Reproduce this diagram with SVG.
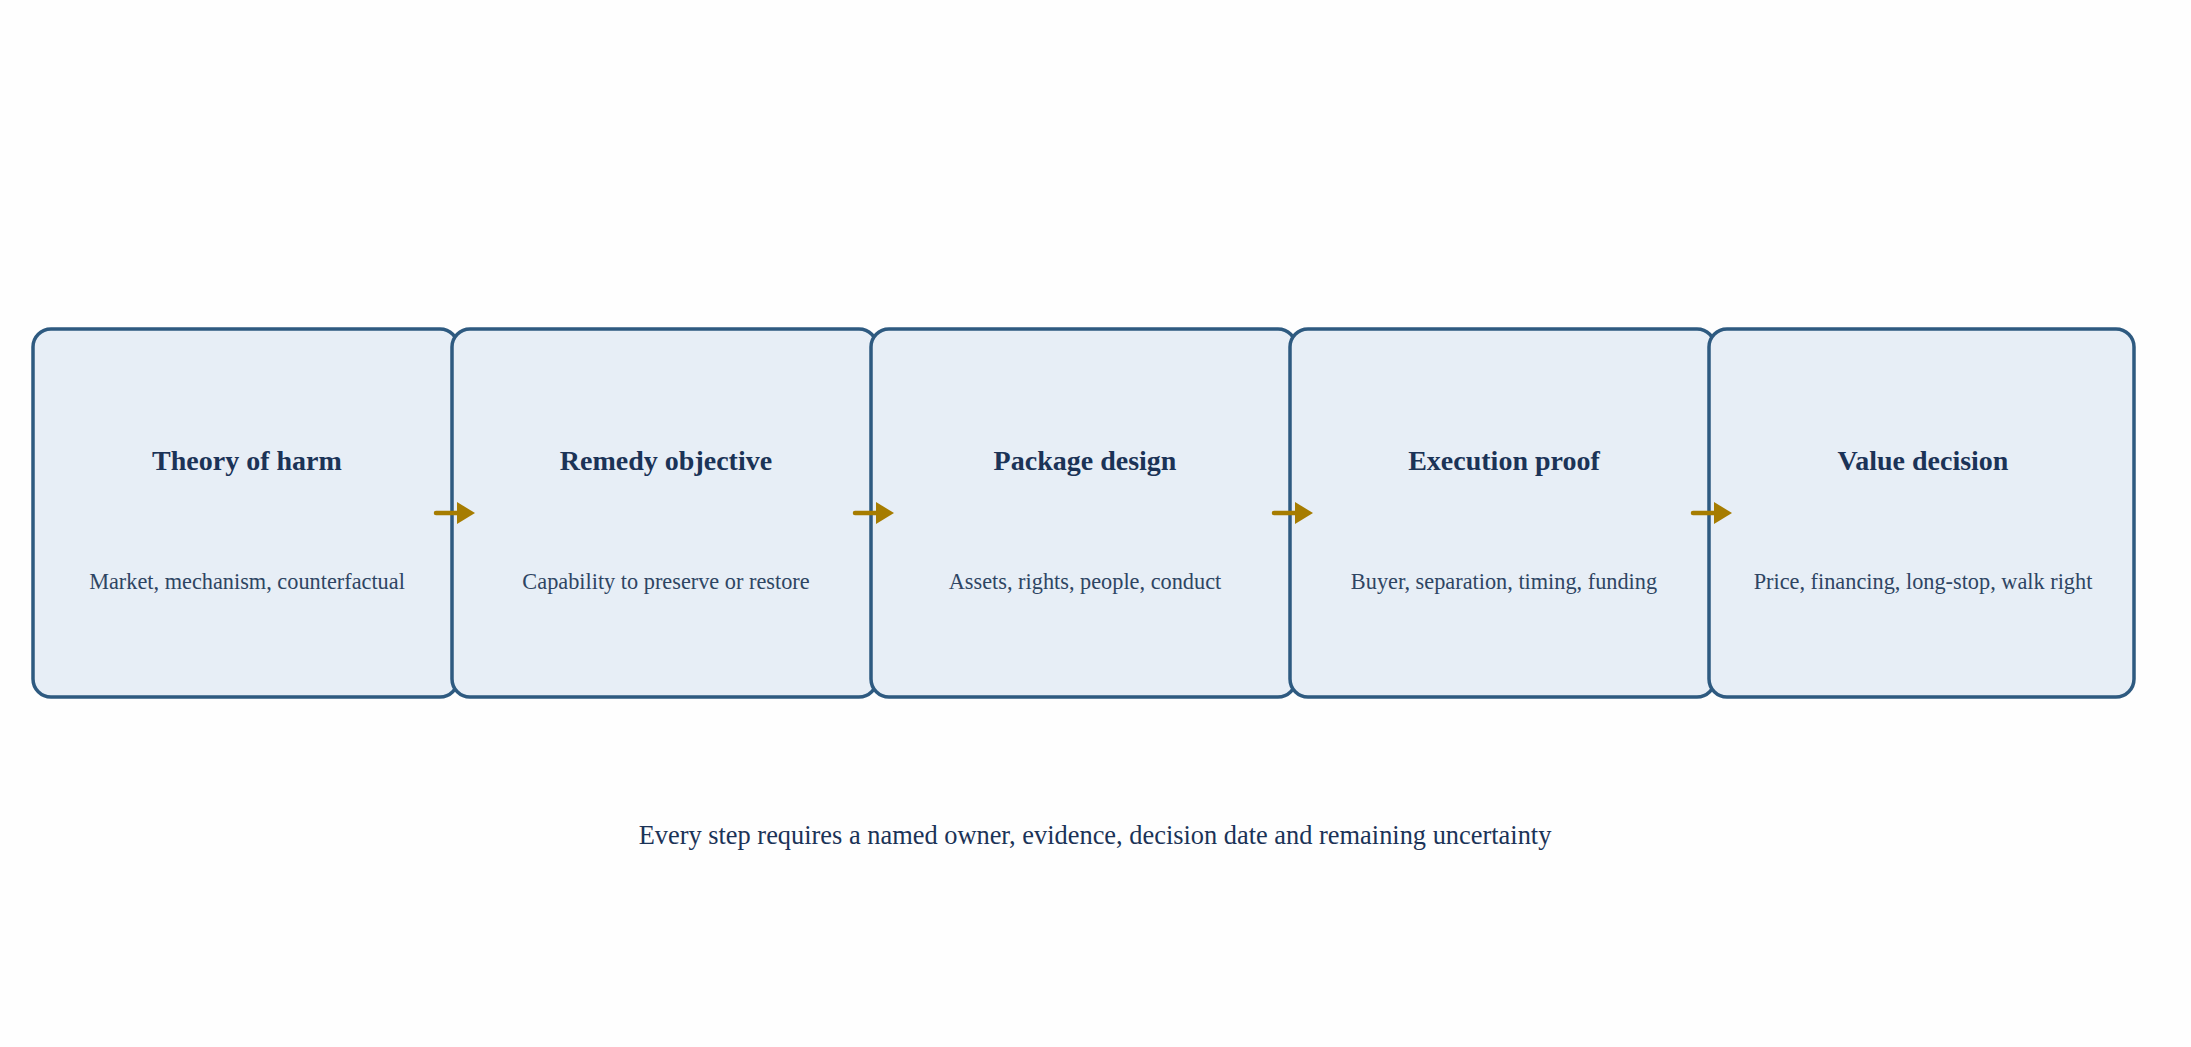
<svg xmlns="http://www.w3.org/2000/svg" width="2191" height="1047" viewBox="0 0 2191 1047">
<defs>
<style>
.box{fill:#e7eef6;stroke:#2e5a80;stroke-width:3.5}
.t{font-family:"Liberation Serif",serif;font-weight:bold;font-size:28px;fill:#1b3357;text-anchor:middle}
.s{font-family:"Liberation Serif",serif;font-size:22.3px;fill:#2e4563;text-anchor:middle}
.f{font-family:"Liberation Serif",serif;font-size:26.4px;fill:#1b3357;text-anchor:middle}
.c{stroke:#a67c00;stroke-width:4.5;fill:none;stroke-linecap:round}
</style>
</defs>
<rect width="2191" height="1047" fill="#fefefe"/>
<g id="n1"><rect class="box" x="33" y="329" width="425" height="368" rx="18"/><text class="t" x="247" y="470">Theory of harm</text><text class="s" x="247" y="589">Market, mechanism, counterfactual</text></g>
<g id="n2"><rect class="box" x="452" y="329" width="425" height="368" rx="18"/><text class="t" x="666" y="470">Remedy objective</text><text class="s" x="666" y="589">Capability to preserve or restore</text></g>
<g id="n3"><rect class="box" x="871" y="329" width="425" height="368" rx="18"/><text class="t" x="1085" y="470">Package design</text><text class="s" x="1085" y="589">Assets, rights, people, conduct</text></g>
<g id="n4"><rect class="box" x="1290" y="329" width="425" height="368" rx="18"/><text class="t" x="1504" y="470">Execution proof</text><text class="s" x="1504" y="589">Buyer, separation, timing, funding</text></g>
<g id="n5"><rect class="box" x="1709" y="329" width="425" height="368" rx="18"/><text class="t" x="1923" y="470">Value decision</text><text class="s" x="1923" y="589">Price, financing, long-stop, walk right</text></g>
<g id="connectors" fill="#a67c00">
<line class="c" x1="436" y1="513" x2="460" y2="513"/><polygon points="457,502 475,513 457,524"/>
<line class="c" x1="855" y1="513" x2="879" y2="513"/><polygon points="876,502 894,513 876,524"/>
<line class="c" x1="1274" y1="513" x2="1298" y2="513"/><polygon points="1295,502 1313,513 1295,524"/>
<line class="c" x1="1693" y1="513" x2="1717" y2="513"/><polygon points="1714,502 1732,513 1714,524"/>
</g>
<text class="f" x="1095" y="844">Every step requires a named owner, evidence, decision date and remaining uncertainty</text>
</svg>
